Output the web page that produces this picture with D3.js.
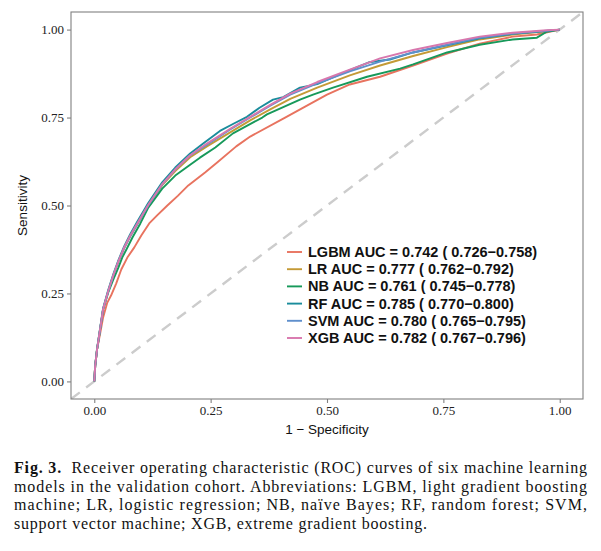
<!DOCTYPE html>
<html>
<head>
<meta charset="utf-8">
<script src="https://cdn.jsdelivr.net/npm/d3@7"></script>
<style>
  body { margin: 0; background: #fff; }
</style>
</head>
<body>
<script>
// models, legend labels and colours
const models = ["LGBM", "LR", "NB", "RF", "SVM", "XGB"];
const aucLabels = [
  "LGBM AUC = 0.742 ( 0.726\u22120.758)",
  "LR AUC = 0.777 ( 0.762\u22120.792)",
  "NB AUC = 0.761 ( 0.745\u22120.778)",
  "RF AUC = 0.785 ( 0.770\u22120.800)",
  "SVM AUC = 0.780 ( 0.765\u22120.795)",
  "XGB AUC = 0.782 ( 0.767\u22120.796)"
];
const colors = ["#e8735f", "#c49a36", "#17995a", "#1a8c9c", "#5f8fcc", "#d877ad"];

const ticks = [0, 0.25, 0.5, 0.75, 1];
const tickLabels = ["0.00", "0.25", "0.50", "0.75", "1.00"];

// ROC points [1 - specificity, sensitivity]
const rocLGBM = [[0,0],[0.002,0.043],[0.006,0.091],[0.013,0.139],[0.019,0.182],[0.028,0.224],
  [0.036,0.244],[0.047,0.278],[0.058,0.318],[0.071,0.352],[0.086,0.381],[0.101,0.415],
  [0.118,0.449],[0.135,0.472],[0.157,0.500],[0.180,0.528],[0.202,0.557],[0.238,0.594],
  [0.264,0.622],[0.305,0.668],[0.335,0.696],[0.410,0.750],[0.453,0.781],[0.500,0.815],
  [0.549,0.844],[0.614,0.866],[0.685,0.898],[0.758,0.932],[0.828,0.960],[0.899,0.980],
  [0.951,0.986],[1,1]];
const rocLR = [[0,0],[0.002,0.045],[0.006,0.091],[0.011,0.134],[0.019,0.205],[0.030,0.256],
  [0.041,0.301],[0.052,0.341],[0.064,0.378],[0.077,0.412],[0.092,0.446],[0.116,0.500],
  [0.146,0.558],[0.174,0.598],[0.206,0.637],[0.242,0.668],[0.292,0.708],[0.335,0.742],
  [0.378,0.773],[0.421,0.803],[0.479,0.835],[0.549,0.870],[0.614,0.898],[0.685,0.925],
  [0.758,0.950],[0.828,0.972],[0.899,0.986],[0.972,0.996],[1,1]];
const rocNB = [[0,0],[0.002,0.045],[0.006,0.091],[0.011,0.134],[0.019,0.205],[0.030,0.253],
  [0.041,0.290],[0.052,0.324],[0.060,0.352],[0.069,0.375],[0.082,0.409],[0.099,0.449],
  [0.116,0.494],[0.146,0.548],[0.174,0.585],[0.206,0.616],[0.227,0.636],[0.260,0.665],
  [0.298,0.705],[0.361,0.750],[0.371,0.759],[0.442,0.801],[0.470,0.815],[0.513,0.835],
  [0.586,0.866],[0.657,0.889],[0.685,0.901],[0.758,0.935],[0.828,0.957],[0.899,0.972],
  [0.951,0.977],[0.972,0.994],[1,1]];
const rocRF = [[0,0],[0.002,0.045],[0.006,0.093],[0.011,0.137],[0.019,0.208],[0.030,0.260],
  [0.041,0.305],[0.052,0.345],[0.064,0.383],[0.077,0.418],[0.092,0.453],[0.116,0.507],
  [0.146,0.566],[0.174,0.608],[0.206,0.648],[0.234,0.676],[0.270,0.712],[0.300,0.733],
  [0.328,0.752],[0.355,0.778],[0.384,0.801],[0.406,0.808],[0.442,0.835],[0.479,0.845],
  [0.549,0.885],[0.590,0.907],[0.635,0.915],[0.685,0.935],[0.758,0.955],[0.828,0.975],
  [0.899,0.988],[0.972,0.996],[1,1]];
const rocSVM = [[0,0],[0.002,0.045],[0.006,0.091],[0.011,0.134],[0.019,0.205],[0.030,0.256],
  [0.041,0.301],[0.052,0.341],[0.064,0.378],[0.077,0.412],[0.092,0.446],[0.116,0.500],
  [0.146,0.560],[0.174,0.602],[0.206,0.642],[0.242,0.673],[0.292,0.716],[0.335,0.750],
  [0.378,0.784],[0.421,0.815],[0.479,0.847],[0.549,0.881],[0.614,0.909],[0.685,0.935],
  [0.758,0.957],[0.828,0.977],[0.899,0.989],[0.972,0.997],[1,1]];
const rocXGB = [[0,0],[0.002,0.045],[0.006,0.091],[0.011,0.136],[0.019,0.206],[0.030,0.257],
  [0.041,0.302],[0.052,0.342],[0.064,0.380],[0.077,0.414],[0.092,0.448],[0.116,0.502],
  [0.146,0.561],[0.174,0.603],[0.206,0.643],[0.242,0.676],[0.292,0.718],[0.335,0.752],
  [0.378,0.786],[0.421,0.818],[0.479,0.851],[0.549,0.886],[0.614,0.918],[0.685,0.942],
  [0.758,0.962],[0.828,0.980],[0.899,0.991],[0.972,0.998],[1,1]];
const rocData = [rocLGBM, rocLR, rocNB, rocRF, rocSVM, rocXGB];

const captionLines = [
  "Receiver operating characteristic (ROC) curves of six machine learning",
  "models in the validation cohort. Abbreviations: LGBM, light gradient boosting",
  "machine; LR, logistic regression; NB, na\u00efve Bayes; RF, random forest; SVM,",
  "support vector machine; XGB, extreme gradient boosting."
];

const width = 601, height = 551;
const panel = {left: 71, top: 12, right: 583, bottom: 399};

const svg = d3.select("body")
              .append("svg")
              .attr("width", width)
              .attr("height", height)
              .style("background-color", "white");

const x = d3.scaleLinear()
            .domain([-0.05, 1.05])
            .range([panel.left, panel.right]);
const y = d3.scaleLinear()
            .domain([-0.05, 1.05])
            .range([panel.bottom, panel.top]);

svg.append("clipPath")
   .attr("id", "clip")
   .append("rect")
   .attr("x", panel.left)
   .attr("y", panel.top)
   .attr("width", panel.right - panel.left)
   .attr("height", panel.bottom - panel.top);

const plot = svg.append("g").attr("clip-path", "url(#clip)");

// reference diagonal
plot.append("line")
    .attr("x1", x(-0.05)).attr("y1", y(-0.05))
    .attr("x2", x(1.05)).attr("y2", y(1.05))
    .attr("stroke", "#cccccc")
    .attr("stroke-width", 2.4)
    .attr("stroke-dasharray", "11,8");

const line = d3.line()
               .x(d => x(d[0]))
               .y(d => y(d[1]));

plot.selectAll("path.roc")
    .data(rocData)
    .enter()
    .append("path")
    .attr("class", "roc")
    .attr("d", line)
    .attr("fill", "none")
    .attr("stroke", (d, i) => colors[i])
    .attr("stroke-width", 1.9)
    .attr("stroke-linejoin", "round");

// panel border
svg.append("rect")
   .attr("x", panel.left)
   .attr("y", panel.top)
   .attr("width", panel.right - panel.left)
   .attr("height", panel.bottom - panel.top)
   .attr("fill", "none")
   .attr("stroke", "#808080")
   .attr("stroke-width", 1.1);

// axes
const xAxis = svg.append("g")
   .attr("transform", `translate(0,${panel.bottom})`)
   .call(d3.axisBottom(x).tickValues(ticks).tickFormat((d, i) => tickLabels[i])
           .tickSizeInner(4).tickSizeOuter(0).tickPadding(3));
const yAxis = svg.append("g")
   .attr("transform", `translate(${panel.left},0)`)
   .call(d3.axisLeft(y).tickValues(ticks).tickFormat((d, i) => tickLabels[i])
           .tickSizeInner(4).tickSizeOuter(0).tickPadding(3));

[xAxis, yAxis].forEach(a => {
  a.select(".domain").remove();
  a.selectAll(".tick line").attr("stroke", "#808080").attr("stroke-width", 1.1);
  a.selectAll(".tick text")
   .attr("fill", "#222")
   .attr("font-family", "'Liberation Serif', serif")
   .attr("font-size", "13px");
});

svg.append("text")
   .attr("x", (panel.left + panel.right) / 2)
   .attr("y", 434)
   .attr("text-anchor", "middle")
   .attr("font-family", "'Liberation Sans', Arial, sans-serif")
   .attr("font-size", "13.5px")
   .attr("fill", "#111")
   .text("1 \u2212 Specificity");

svg.append("text")
   .attr("transform", `translate(27,${(panel.top + panel.bottom) / 2}) rotate(-90)`)
   .attr("text-anchor", "middle")
   .attr("font-family", "'Liberation Sans', Arial, sans-serif")
   .attr("font-size", "13.5px")
   .attr("fill", "#111")
   .text("Sensitivity");

// legend
const legend = svg.append("g").attr("transform", "translate(287,252)");
const rows = legend.selectAll("g")
   .data(models)
   .enter()
   .append("g")
   .attr("transform", (d, i) => `translate(0,${i * 17.2})`);
rows.append("line")
    .attr("x1", 0).attr("x2", 15)
    .attr("y1", 0).attr("y2", 0)
    .attr("stroke", (d, i) => colors[i])
    .attr("stroke-width", 1.9);
rows.append("text")
    .attr("x", 21)
    .attr("y", 5)
    .attr("font-family", "'Liberation Sans', Arial, sans-serif")
    .attr("font-weight", "bold")
    .attr("font-size", "14.5px")
    .attr("fill", "#111")
    .text((d, i) => aucLabels[i]);

// caption
const caption = svg.append("g");
const capLeft = 14, capRight = 587;
captionLines.forEach((t, i) => {
  const txt = caption.append("text")
     .attr("x", capLeft)
     .attr("y", 473 + i * 18.5)
     .attr("font-family", "'Liberation Serif', serif")
     .attr("font-size", "16px")
     .attr("fill", "#111");
  if (i === 0) {
    txt.append("tspan").attr("font-weight", "bold").text("Fig. 3.");
    txt.append("tspan").text("\u00a0\u00a0" + t);
  } else {
    txt.text(t);
  }
  const full = i < 3 ? capRight - capLeft : 413;
  txt.attr("textLength", full).attr("lengthAdjust", "spacing");
});
</script>
</body>
</html>
